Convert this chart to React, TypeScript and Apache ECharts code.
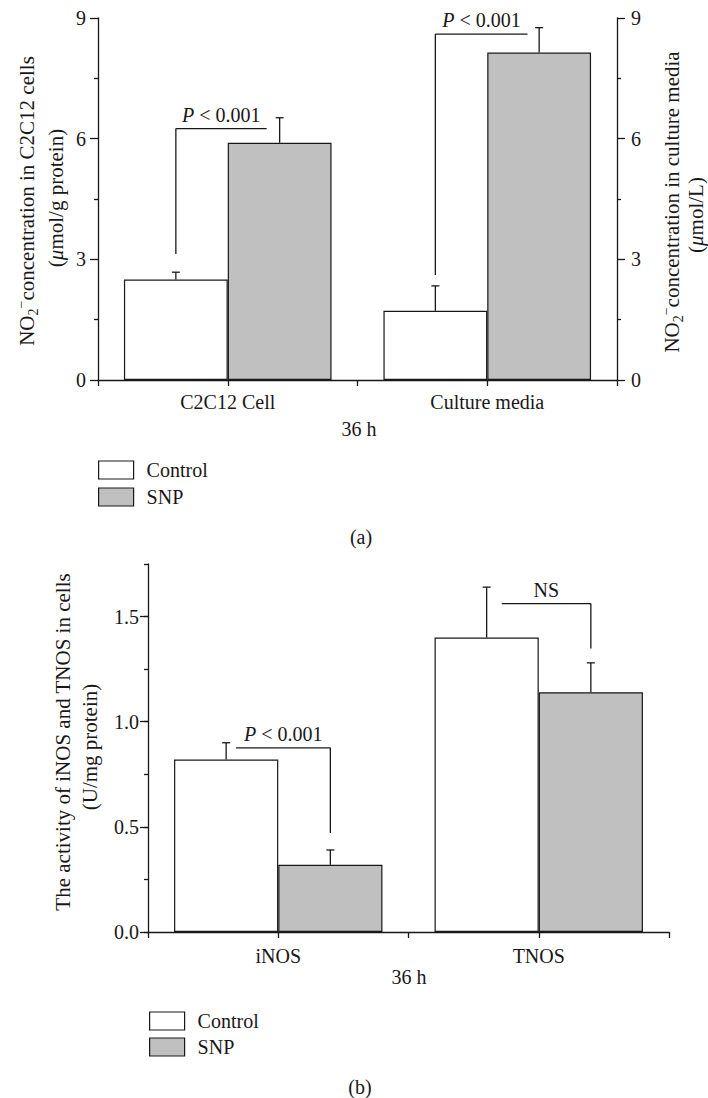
import React, { useEffect, useRef } from 'react';
import * as echarts from 'echarts';

const FONT = '"Liberation Serif", "Times New Roman", serif';
const INK = '#1a1718';
const GRAY = '#c0c0c0';
const FS = 20;
const FT = 21;

// ---- Panel (a) data ----
const catsA = ['C2C12 Cell', 'Culture media'];
const controlA = [2.5, 1.72];
const controlErrA = [0.18, 0.62];
const snpA = [5.9, 8.14];
const snpErrA = [0.62, 0.62];
const ticksA = [0, 3, 6, 9];
// significance brackets: [category index, lower end, bracket height]
const bracketsA = [
  [0, 3.13, 6.25],
  [1, 2.61, 8.6],
];
const bracketLabelsA = ['{i|P} < 0.001', '{i|P} < 0.001'];

// ---- Panel (b) data ----
const catsB = ['iNOS', 'TNOS'];
const controlB = [0.82, 1.4];
const controlErrB = [0.08, 0.24];
const snpB = [0.32, 1.14];
const snpErrB = [0.07, 0.14];
const ticksB = [0, 0.5, 1, 1.5];
const bracketsB = [
  [0, 0.471, 0.876],
  [1, 1.348, 1.562],
];
const bracketLabelsB = ['{i|P} < 0.001', 'NS'];

// layout of brackets as fractions of category band width (style, not data)
const bracketLayoutA = [
  { vert: -0.2, from: -0.2, to: 0.15 },
  { vert: -0.2, from: -0.2, to: 0.155 },
];
const bracketLayoutB = [
  { vert: 0.2, from: -0.162, to: 0.2 },
  { vert: 0.2, from: -0.142, to: 0.2 },
];

const lineStyle = { color: INK, width: 1.3 };
const textBase = { fontFamily: FONT, fontSize: FS, color: INK };

function errorSeries(xAxisIndex: number, yAxisIndex: number, values: number[], errs: number[], side: number) {
  return {
    type: 'custom',
    xAxisIndex,
    yAxisIndex,
    z: 4,
    silent: true,
    data: values.map((v, i) => [i, v, v + errs[i]]),
    renderItem: (params: any, api: any) => {
      const band = api.size([1, 0])[0];
      const p0 = api.coord([api.value(0), api.value(1)]);
      const p1 = api.coord([api.value(0), api.value(2)]);
      const x = p0[0] + side * band * 0.2;
      return {
        type: 'group',
        children: [
          { type: 'line', shape: { x1: x, y1: p0[1], x2: x, y2: p1[1] }, style: { stroke: INK, lineWidth: 1.3 } },
          { type: 'line', shape: { x1: x - 4, y1: p1[1], x2: x + 4, y2: p1[1] }, style: { stroke: INK, lineWidth: 1.3 } },
        ],
      };
    },
  };
}

function bracketSeries(xAxisIndex: number, yAxisIndex: number, data: number[][], labels: string[], layout: any[]) {
  return {
    type: 'custom',
    xAxisIndex,
    yAxisIndex,
    z: 5,
    silent: true,
    data,
    renderItem: (params: any, api: any) => {
      const L = layout[params.dataIndex];
      const band = api.size([1, 0])[0];
      const pc = api.coord([api.value(0), api.value(2)]);
      const pl = api.coord([api.value(0), api.value(1)]);
      const cx = pc[0];
      const xv = cx + L.vert * band;
      const x1 = cx + L.from * band;
      const x2 = cx + L.to * band;
      const yh = pc[1];
      return {
        type: 'group',
        children: [
          { type: 'line', shape: { x1: xv, y1: pl[1], x2: xv, y2: yh }, style: { stroke: INK, lineWidth: 1.3 } },
          { type: 'line', shape: { x1, y1: yh, x2, y2: yh }, style: { stroke: INK, lineWidth: 1.3 } },
          {
            type: 'text',
            x: (x1 + x2) / 2,
            y: yh - 14,
            style: {
              text: labels[params.dataIndex],
              fontFamily: FONT,
              fontSize: FS,
              fill: INK,
              align: 'center',
              verticalAlign: 'middle',
              rich: { i: { fontStyle: 'italic', fontFamily: FONT, fontSize: FS, fill: INK } },
            },
          },
        ],
      };
    },
  };
}

function rotText(x: number, y: number, text: string, rich?: any) {
  return {
    type: 'text',
    x,
    y,
    rotation: Math.PI / 2,
    style: {
      text,
      fontFamily: FONT,
      fontSize: FT,
      fill: INK,
      align: 'center',
      verticalAlign: 'middle',
      rich,
    },
  };
}

function plainText(x: number, y: number, text: string) {
  return {
    type: 'text',
    x,
    y,
    style: { text, fontFamily: FONT, fontSize: FS, fill: INK, align: 'center', verticalAlign: 'middle' },
  };
}

const richNO2 = {
  n: { fontFamily: FONT, fontSize: FT, fill: INK, lineHeight: 26, verticalAlign: 'middle' },
  sub: { fontFamily: FONT, fontSize: 14, fill: INK, lineHeight: 13, verticalAlign: 'bottom' },
  sup: { fontFamily: FONT, fontSize: 14, fill: INK, lineHeight: 13, verticalAlign: 'top' },
  i: { fontFamily: FONT, fontSize: FT, fill: INK, fontStyle: 'italic' },
};

export default function App() {
  const ref = useRef<HTMLDivElement>(null);
  useEffect(() => {
    document.body.style.margin = '0';
    if (!ref.current) return;
    const chart = echarts.init(ref.current, null, { renderer: 'svg' });
    const option: any = {
      animation: false,
      backgroundColor: '#ffffff',
      grid: [
        { left: 98, right: 91, top: 18, bottom: 718, containLabel: false },
        { left: 148, right: 39, top: 564, bottom: 166, containLabel: false },
      ],
      xAxis: [
        {
          gridIndex: 0, type: 'category', data: catsA, position: 'bottom',
          axisLine: { show: true, lineStyle },
          axisTick: { show: true, length: 6, lineStyle, interval: 0 },
          axisLabel: { ...textBase, margin: 12, interval: 0 },
          splitLine: { show: false },
        },
        {
          gridIndex: 0, type: 'category', data: catsA, position: 'bottom', offset: 0,
          axisLine: { show: false },
          axisTick: { show: true, length: 6, lineStyle, alignWithLabel: true, interval: 0 },
          axisLabel: { show: false },
          splitLine: { show: false },
        },
        {
          gridIndex: 1, type: 'category', data: catsB, position: 'bottom',
          axisLine: { show: true, lineStyle },
          axisTick: { show: true, length: 6, lineStyle, interval: 0 },
          axisLabel: { ...textBase, margin: 14, interval: 0 },
          splitLine: { show: false },
        },
        {
          gridIndex: 1, type: 'category', data: catsB, position: 'bottom', offset: 0,
          axisLine: { show: false },
          axisTick: { show: true, length: 6, lineStyle, alignWithLabel: true, interval: 0 },
          axisLabel: { show: false },
          splitLine: { show: false },
        },
      ],
      yAxis: [
        {
          gridIndex: 0, type: 'value', position: 'left', min: 0, max: 9, interval: 3,
          axisLine: { show: true, lineStyle },
          axisTick: { show: true, length: 8, lineStyle },
          minorTick: { show: true, splitNumber: 2, length: 4, lineStyle },
          axisLabel: { ...textBase, margin: 12, formatter: (v: number) => (ticksA.includes(v) ? String(v) : '') },
          splitLine: { show: false },
        },
        {
          gridIndex: 0, type: 'value', position: 'right', min: 0, max: 9, interval: 3,
          axisLine: { show: true, lineStyle },
          axisTick: { show: true, length: 8, lineStyle },
          minorTick: { show: true, splitNumber: 2, length: 4, lineStyle },
          axisLabel: { ...textBase, margin: 14, formatter: (v: number) => (ticksA.includes(v) ? String(v) : '') },
          splitLine: { show: false },
        },
        {
          gridIndex: 1, type: 'value', position: 'left', min: 0, max: 1.75, interval: 0.25,
          axisLine: { show: true, lineStyle },
          axisTick: { show: true, length: 4, lineStyle },
          axisLabel: { show: false },
          splitLine: { show: false },
        },
        {
          gridIndex: 1, type: 'value', position: 'left', offset: 0, min: 0, max: 1.75, interval: 0.25,
          axisLine: { show: false },
          axisTick: { show: true, length: 8, lineStyle, customValues: ticksB },
          axisLabel: {
            ...textBase, margin: 9, customValues: ticksB,
            formatter: (v: number) => (ticksB.includes(v) ? v.toFixed(1) : ''),
          },
          splitLine: { show: false },
        },
      ],
      legend: [
        {
          left: 98, top: 460, orient: 'vertical', padding: 0,
          itemWidth: 35, itemHeight: 18, itemGap: 7, icon: 'rect',
          selectedMode: false,
          data: ['Control', 'SNP'],
          itemStyle: { borderColor: INK, borderWidth: 1.2 },
          textStyle: { ...textBase, lineHeight: 20, padding: [0, 0, 0, 8] },
        },
        {
          left: 149, top: 1011, orient: 'vertical', padding: 0,
          itemWidth: 35, itemHeight: 18, itemGap: 6, icon: 'rect',
          selectedMode: false,
          data: ['Control', 'SNP'],
          itemStyle: { borderColor: INK, borderWidth: 1.2 },
          textStyle: { ...textBase, lineHeight: 20, padding: [0, 0, 0, 8] },
        },
      ],
      series: [
        {
          name: 'Control', type: 'bar', xAxisIndex: 0, yAxisIndex: 0, data: controlA,
          barWidth: '40%', barGap: '0%',
          itemStyle: { color: '#ffffff', borderColor: INK, borderWidth: 1.2 },
        },
        {
          name: 'SNP', type: 'bar', xAxisIndex: 0, yAxisIndex: 0, data: snpA,
          barWidth: '40%', barGap: '0%',
          itemStyle: { color: GRAY, borderColor: INK, borderWidth: 1.2 },
        },
        errorSeries(0, 0, controlA, controlErrA, -1),
        errorSeries(0, 0, snpA, snpErrA, 1),
        bracketSeries(0, 0, bracketsA, bracketLabelsA, bracketLayoutA),
        {
          name: 'Control', type: 'bar', xAxisIndex: 2, yAxisIndex: 2, data: controlB,
          barWidth: '40%', barGap: '0%',
          itemStyle: { color: '#ffffff', borderColor: INK, borderWidth: 1.2 },
        },
        {
          name: 'SNP', type: 'bar', xAxisIndex: 2, yAxisIndex: 2, data: snpB,
          barWidth: '40%', barGap: '0%',
          itemStyle: { color: GRAY, borderColor: INK, borderWidth: 1.2 },
        },
        errorSeries(2, 2, controlB, controlErrB, -1),
        errorSeries(2, 2, snpB, snpErrB, 1),
        bracketSeries(2, 2, bracketsB, bracketLabelsB, bracketLayoutB),
      ],
      graphic: [
        rotText(27, 201, '{n|NO}{sub|2}{sup|−}{n|concentration in C2C12 cells}', richNO2),
        rotText(56, 198, '{n|(}{i|μ}{n|mol/g protein)}', richNO2),
        rotText(672, 202, '{n|NO}{sub|2}{sup|−}{n|concentration in culture media}', richNO2),
        rotText(696, 215, '{n|(}{i|μ}{n|mol/L)}', richNO2),
        plainText(359, 429, '36 h'),
        plainText(361, 537, '(a)'),
        rotText(63, 742, 'The activity of iNOS and TNOS in cells'),
        rotText(90, 747, '(U/mg protein)'),
        plainText(409, 977, '36 h'),
        plainText(360, 1087, '(b)'),
      ],
    };
    chart.setOption(option);
    return () => chart.dispose();
  }, []);
  return <div ref={ref} style={{ width: 708, height: 1098 }} />;
}
